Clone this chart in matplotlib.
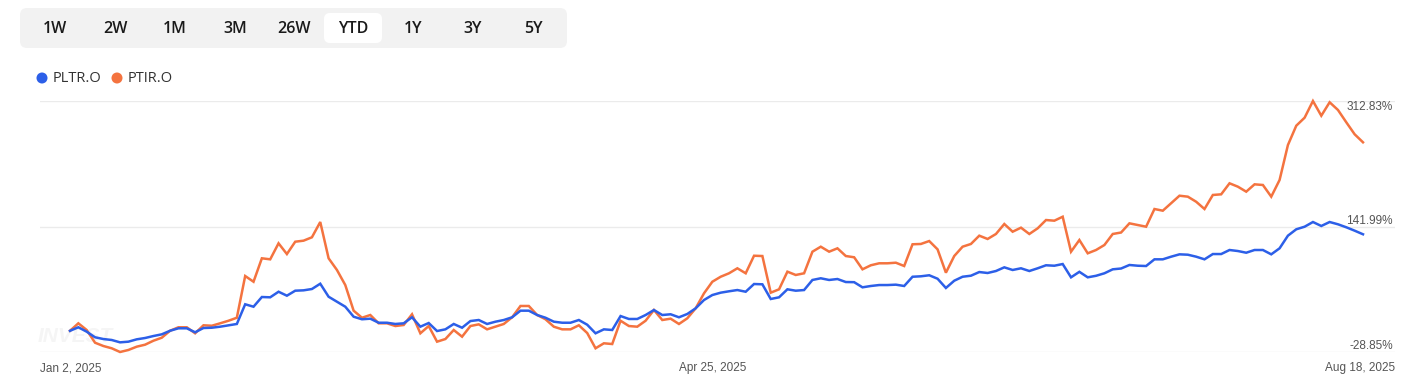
import numpy as np
import matplotlib
matplotlib.use("Agg")
import matplotlib.pyplot as plt
from matplotlib.patches import FancyBboxPatch, Circle
from matplotlib.transforms import blended_transform_factory

# ==========================================
# DATA (YTD % change, one value per trading day)
# ==========================================
period_buttons = ["1W", "2W", "1M", "3M", "26W", "YTD", "1Y", "3Y", "5Y"]
selected_period = "YTD"

series_names = ["PLTR.O", "PTIR.O"]

pltr = [
    0.0, 4.8, -1.2, -8.8, -11.2, -12.5, -15.7, -14.8, -11.6, -9.8,
    -7.1, -4.8, 0.1, 3.4, 3.4, -2.0, 3.8, 4.2, 5.6, 7.5,
    9.3, 36.1, 32.8, 46.0, 45.6, 53.2, 47.8, 54.6, 55.1, 56.9,
    64.1, 46.4, 39.6, 32.8, 19.2, 15.7, 16.5, 11.0, 11.0, 9.3,
    10.2, 18.4, 5.6, 10.6, -0.3, 2.0, 9.3, 4.2, 13.3, 14.7,
    9.3, 12.4, 14.7, 18.4, 27.4, 27.4, 21.5, 17.8, 12.4, 11.0,
    11.0, 14.7, 8.3, -3.4, 2.0, 1.1, 20.1, 16.1, 16.1, 21.5,
    28.3, 21.5, 22.5, 18.4, 22.9, 30.6, 41.9, 48.7, 51.9, 53.8,
    55.5, 53.2, 63.7, 63.3, 43.3, 45.6, 56.5, 54.6, 55.5, 69.2,
    71.5, 69.2, 70.5, 66.4, 66.2, 59.2, 61.0, 62.3, 62.3, 62.8,
    61.0, 73.6, 74.2, 75.6, 70.9, 58.3, 68.2, 73.6, 75.0, 80.0,
    78.7, 81.4, 86.4, 82.8, 85.1, 81.4, 85.1, 89.2, 88.6, 90.9,
    72.8, 80.3, 72.8, 74.9, 78.3, 83.7, 84.8, 89.6, 88.6, 88.2,
    97.3, 97.3, 100.9, 104.1, 103.6, 100.9, 97.3, 104.5, 104.5, 110.0,
    108.6, 106.3, 110.0, 110.0, 104.1, 112.3, 129.5, 138.2, 141.7, 148.1,
    142.7, 148.1, 145.0, 140.9, 136.3, 131.4,
]

ptir = [
    0.0, 10.2, 1.1, -16.2, -20.7, -23.8, -28.85, -26.1, -21.6, -18.9,
    -13.5, -9.4, 0.1, 4.8, 4.8, -3.4, 7.5, 6.9, 10.2, 13.7,
    17.8, 74.6, 66.8, 98.7, 97.3, 119.1, 104.5, 121.3, 122.7, 127.3,
    148.1, 98.7, 82.8, 62.3, 27.4, 17.8, 21.5, 10.2, 10.2, 6.5,
    7.9, 22.5, -3.4, 6.5, -14.8, -11.2, 1.1, -8.0, 6.5, 8.8,
    2.0, 5.6, 9.3, 18.4, 33.8, 33.8, 21.5, 15.7, 5.6, 2.0,
    2.0, 7.5, -3.0, -23.8, -17.0, -18.0, 13.7, 6.5, 5.6, 13.7,
    28.3, 14.7, 16.5, 9.3, 17.0, 30.6, 51.0, 66.8, 73.6, 78.3,
    85.1, 78.3, 102.2, 101.8, 51.9, 56.5, 80.5, 76.0, 78.3, 107.7,
    114.5, 107.7, 112.3, 101.8, 100.1, 83.7, 89.2, 91.9, 91.9, 92.7,
    88.2, 117.8, 118.2, 122.2, 110.9, 79.1, 101.8, 114.5, 118.2, 129.5,
    125.0, 131.8, 145.4, 134.9, 140.4, 131.8, 139.5, 150.8, 149.9, 155.3,
    107.7, 123.6, 105.5, 110.0, 116.8, 131.8, 133.8, 146.3, 144.0, 141.7,
    165.8, 163.5, 173.6, 183.9, 182.6, 175.7, 165.8, 184.9, 185.8, 200.8,
    196.2, 189.4, 199.4, 198.5, 182.6, 205.3, 252.9, 279.2, 290.1, 312.83,
    292.8, 311.1, 300.6, 283.8, 267.5, 256.6,
]

x_tick_idx = [0, 77, 155]
x_tick_labels = ["Jan 2, 2025", "Apr 25, 2025", "Aug 18, 2025"]

colors = ["#2c5fe8", "#f4733f"]

# ==========================================
# FIGURE
# ==========================================
W, H = 1425, 384
fig = plt.figure(figsize=(W / 100, H / 100), dpi=100)
fig.patch.set_facecolor("white")

# pixel-space overlay for the button bar / legend
bg = fig.add_axes([0, 0, 1, 1])
bg.set_xlim(0, W)
bg.set_ylim(H, 0)
bg.axis("off")

bar = FancyBboxPatch((20, 8), 547, 40, boxstyle="round,pad=0,rounding_size=7",
                     fc="#f2f2f2", ec="none")
bg.add_patch(bar)

btn_x = [55, 115, 175, 235, 294, 353, 413, 473, 533]
for lbl, bx in zip(period_buttons, btn_x):
    if lbl == selected_period:
        pill = FancyBboxPatch((bx - 29, 13), 58, 30, boxstyle="round,pad=0,rounding_size=6",
                              fc="white", ec="none")
        bg.add_patch(pill)
    bg.text(bx, 29, lbl, ha="center", va="center", fontsize=11.5, color="#1a1a1a",
            family="Open Sans", fontweight="semibold")

# legend
leg_x = [42, 117]
for name, c, lx in zip(series_names, colors, leg_x):
    bg.add_patch(Circle((lx, 78), 5.5, fc=c, ec="none"))
    bg.text(lx + 11, 78, name, ha="left", va="center", fontsize=10.5, color="#333333",
            family="Open Sans")

# faint watermark
bg.text(38, 337, "INVEST", ha="left", va="center", fontsize=15, color="#f5f5f5",
        fontweight="bold", style="italic", family="Liberation Sans")

# ==========================================
# MAIN PLOT
# ==========================================
ax_left, ax_right = 40, 1395
ax_top, ax_bot = 101, 352
ax = fig.add_axes([ax_left / W, 1 - ax_bot / H, (ax_right - ax_left) / W, (ax_bot - ax_top) / H])
ax.patch.set_alpha(0)

ymin, ymax = min(min(pltr), min(ptir)), max(max(pltr), max(ptir))
ymid = (ymin + ymax) / 2
ax.set_ylim(ymin, ymax)

step = (1363 - 70) / 155
ax.set_xlim(-(70 - ax_left) / step, 155 + (ax_right - 1363) / step)

for yv in [ymin, ymid, ymax]:
    ax.axhline(yv, color="#ebebeb", lw=1, zorder=0)

x = np.arange(len(pltr))
ax.plot(x, ptir, color=colors[1], lw=1.8, clip_on=False, solid_joinstyle="miter", zorder=3)
ax.plot(x, pltr, color=colors[0], lw=1.8, clip_on=False, solid_joinstyle="miter", zorder=4)

for s in ax.spines.values():
    s.set_visible(False)
ax.set_xticks([])
ax.set_yticks([])

# right-side value labels
tr = blended_transform_factory(ax.transAxes, ax.transData)
lbl_kw = dict(ha="right", fontsize=8.5, color="#555555", family="Liberation Sans")
ax.text(0.9985, ymax, f"{ymax:.2f}%", va="top", transform=tr, **lbl_kw)
ax.text(0.9985, ymid, f"{ymid:.2f}%", va="bottom", transform=tr, **lbl_kw)
ax.text(0.9985, ymin, f"{ymin:.2f}%", va="bottom", transform=tr, **lbl_kw)

# date labels
dkw = dict(fontsize=8.5, color="#555555", family="Liberation Sans", va="top")
trx = blended_transform_factory(ax.transData, ax.transAxes)
ax.text(0.0, -0.04, x_tick_labels[0], ha="left", transform=ax.transAxes, **dkw)
ax.text(x_tick_idx[1], -0.04, x_tick_labels[1], ha="center", transform=trx, **dkw)
ax.text(1.0, -0.04, x_tick_labels[2], ha="right", transform=ax.transAxes, **dkw)

fig.savefig("out.png", dpi=100, facecolor="white")
